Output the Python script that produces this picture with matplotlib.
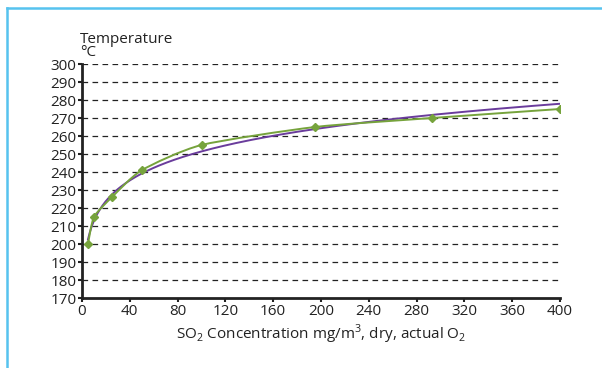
import numpy as np
import matplotlib
matplotlib.use("Agg")
import matplotlib.pyplot as plt
from matplotlib.path import Path
from matplotlib.patches import PathPatch
from matplotlib.lines import Line2D

plt.rcParams['font.family'] = ['Open Sans', 'DejaVu Sans']

# Messwerte (SO2-Konzentration vs. Temperatur)
so2 = [5, 10, 25, 50, 100, 195, 293, 400]
temp = [200, 215, 226, 241, 255, 265, 270, 275]

x_ticks = list(range(0, 401, 40))
y_ticks = list(range(170, 301, 10))

verde = '#76a33c'
roxo = '#6a3c9c'
texto = '#222222'

fig = plt.figure(figsize=(6.02, 3.68), dpi=100)
ax = fig.add_axes([82 / 602, 1 - 298 / 368, 478 / 602, 234 / 368])

# linha suavizada (Bezier) pelos pontos medidos
xs = np.array(so2, dtype=float)
ys = np.array(temp, dtype=float)
verts = [(xs[0], ys[0])]
codes = [Path.MOVETO]
t = 0.11
for i in range(len(xs) - 1):
    x0, y0 = (xs[i - 1], ys[i - 1]) if i > 0 else (xs[i], ys[i])
    x3, y3 = (xs[i + 2], ys[i + 2]) if i + 2 < len(xs) else (xs[i + 1], ys[i + 1])
    c1 = (xs[i] + (xs[i + 1] - x0) * t, ys[i] + (ys[i + 1] - y0) * t)
    c2 = (xs[i + 1] - (x3 - xs[i]) * t, ys[i + 1] - (y3 - ys[i]) * t)
    verts += [c1, c2, (xs[i + 1], ys[i + 1])]
    codes += [Path.CURVE4] * 3
ax.add_patch(PathPatch(Path(verts, codes), fill=False, edgecolor=verde, lw=1.4, zorder=3))
ax.plot(so2, temp, linestyle='none', marker='D', ms=4, color=verde, zorder=4)

# linha de tendencia (ajuste potencia)
b, a = np.polyfit(np.log(xs), np.log(ys), 1)
xt = np.linspace(xs[0], xs[-1], 300)
ax.plot(xt, np.exp(a) * xt ** b, color=roxo, lw=1.4, zorder=2)

ax.set_xlim(0, 400)
ax.set_ylim(170, 300)
ax.set_xticks(x_ticks)
ax.set_yticks(y_ticks)
ax.tick_params(direction='out', length=3, width=1.5, labelsize=11, pad=1, colors=texto)
for s in ['top', 'right']:
    ax.spines[s].set_visible(False)
for s in ['left', 'bottom']:
    ax.spines[s].set_linewidth(2)
    ax.spines[s].set_color(texto)
for yv in y_ticks[1:]:
    ax.axhline(yv, color=texto, lw=0.9, linestyle=(0, (4.5, 3.5)), zorder=1)

ax.set_xlabel('SO$_\\mathregular{2}$ Concentration mg/m$^\\mathregular{3}$, dry, actual O$_\\mathregular{2}$',
              fontsize=11, labelpad=3, color=texto)
fig.text(80 / 602, 1 - 56 / 368, 'Temperature\n°C', fontsize=11, color=texto,
         va='baseline', ha='left', linespacing=0.85)

# moldura azul
azul = '#56c3ef'
fig.add_artist(Line2D([6.5 / 602, 1], [1 - 7.5 / 368, 1 - 7.5 / 368], color=azul, lw=1.8))
fig.add_artist(Line2D([6.5 / 602, 6.5 / 602], [0, 1 - 7.5 / 368], color=azul, lw=1.8))

fig.savefig('out.png', dpi=100)
